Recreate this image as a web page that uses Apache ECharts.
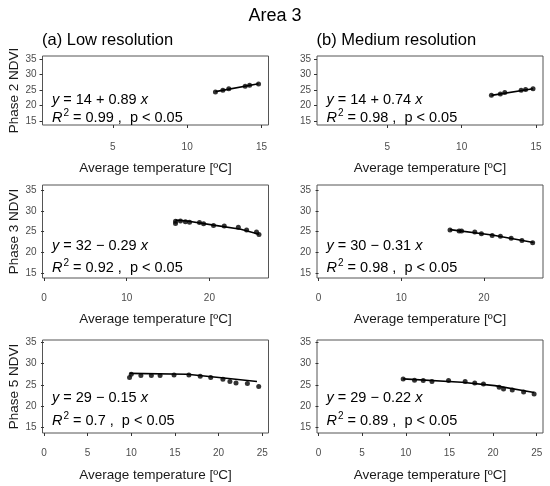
<!DOCTYPE html>
<html><head><meta charset="utf-8">
<script src="https://cdn.jsdelivr.net/npm/echarts@6/dist/echarts.min.js"></script>
<style>html,body{margin:0;padding:0;background:#fff}#c{width:550px;height:486px}</style>
</head><body><div id="c"></div>
<script>
// ---- data ----
const tempP2Low = [11.9, 12.4, 12.8, 13.9, 14.2, 14.8];
const ndviP2Low = [24.4, 24.9, 25.4, 26.2, 26.5, 26.9];
const fitP2LowX = [11.9, 14.8];
const fitP2LowY = [24.5, 27.0];

const tempP2Med = [12.0, 12.6, 12.9, 14.0, 14.3, 14.8];
const ndviP2Med = [23.3, 23.7, 24.2, 24.9, 25.2, 25.4];
const fitP2MedX = [12.0, 14.8];
const fitP2MedY = [23.3, 25.4];

const tempP3Low = [15.9, 15.9, 16.5, 17.1, 17.6, 18.8, 19.3, 20.5, 21.8, 23.5, 24.5, 25.7, 26.0];
const ndviP3Low = [27.0, 27.5, 27.6, 27.4, 27.3, 27.2, 26.9, 26.5, 26.4, 26.1, 25.4, 24.9, 24.3];
const fitP3LowX = [15.9, 17.3, 20.5, 23.8, 26.0];
const fitP3LowY = [27.8, 27.6, 26.6, 25.6, 24.4];

const tempP3Med = [15.9, 17.0, 17.3, 18.9, 19.7, 21.0, 22.0, 23.3, 24.6, 25.9];
const ndviP3Med = [25.4, 25.2, 25.2, 24.9, 24.5, 24.1, 23.9, 23.4, 22.9, 22.3];
const fitP3MedX = [15.9, 21.0, 26.0];
const fitP3MedY = [25.5, 24.2, 22.4];

const tempP5Low = [9.8, 10.0, 11.1, 12.3, 13.3, 14.9, 16.6, 17.9, 19.1, 20.5, 21.3, 22.0, 23.3, 24.6];
const ndviP5Low = [26.7, 27.5, 27.2, 27.2, 27.2, 27.3, 27.3, 27.0, 26.7, 26.3, 25.8, 25.4, 25.3, 24.6];
const fitP5LowX = [9.8, 16.4, 20.6, 24.4];
const fitP5LowY = [27.7, 27.5, 26.6, 25.8];

const tempP5Med = [9.7, 11.0, 12.0, 13.0, 14.9, 16.8, 17.9, 18.9, 20.7, 21.2, 22.2, 23.5, 24.7];
const ndviP5Med = [26.4, 26.1, 26.0, 25.8, 26.0, 25.8, 25.4, 25.2, 24.4, 24.0, 23.8, 23.3, 22.8];
const fitP5MedX = [9.7, 16.4, 20.2, 24.7];
const fitP5MedY = [26.4, 25.6, 24.8, 23.2];

const yTicks = [15, 20, 25, 30, 35];
const xTicksTop = [5, 10, 15];
const xTicksMid = [0, 10, 20];
const xTicksBot = [0, 5, 10, 15, 20, 25];

const chartTitle = 'Area 3';
const colTitles = ['(a) Low resolution', '(b) Medium resolution'];
const rowNames = ['Phase 2 NDVI', 'Phase 3 NDVI', 'Phase 5 NDVI'];
const xName = 'Average temperature [ºC]';
const eqs = [
  ['14 + 0.89', '0.99'], ['14 + 0.74', '0.98'],
  ['32 \u2212 0.29', '0.92'], ['30 \u2212 0.31', '0.98'],
  ['29 \u2212 0.15', '0.7'], ['29 \u2212 0.22', '0.89']
];

// ---- layout ----
const FONT = '"Liberation Sans", Arial, sans-serif';
const colLeft = [42.5, 317];
const plotW = 226;
const rows = [
  {top: 56, h: 69, xmin: 0.27, xmax: 15.47, ymin: 13.8, ymax: 35.9, ticks: xTicksTop, margin: 17, gap: 36, eqY: [100, 118]},
  {top: 185, h: 93, xmin: -0.19, xmax: 27.15, ymin: 13.8, ymax: 36.3, ticks: xTicksMid, margin: 15, gap: 34, eqY: [246, 268]},
  {top: 340, h: 93, xmin: -0.17, xmax: 25.72, ymin: 13.6, ymax: 35.6, ticks: xTicksBot, margin: 15, gap: 35, eqY: [398, 421]}
];
const pts = [
  [tempP2Low, ndviP2Low, fitP2LowX, fitP2LowY],
  [tempP2Med, ndviP2Med, fitP2MedX, fitP2MedY],
  [tempP3Low, ndviP3Low, fitP3LowX, fitP3LowY],
  [tempP3Med, ndviP3Med, fitP3MedX, fitP3MedY],
  [tempP5Low, ndviP5Low, fitP5LowX, fitP5LowY],
  [tempP5Med, ndviP5Med, fitP5MedX, fitP5MedY]
];

const grid = [], xAxis = [], yAxis = [], series = [], graphic = [];
graphic.push({type: 'text', x: 275, y: 16, style: {text: chartTitle, font: '18px ' + FONT, fill: '#000', align: 'center', verticalAlign: 'middle'}});
colTitles.forEach((t, c) => graphic.push({type: 'text', x: colLeft[c] - 0.5, y: 40, style: {text: t, font: '16.5px ' + FONT, fill: '#000', align: 'left', verticalAlign: 'middle'}}));

rows.forEach((r, ri) => {
  [0, 1].forEach(c => {
    const k = ri * 2 + c;
    grid.push({left: colLeft[c], top: r.top, width: plotW, height: r.h, show: true, borderColor: '#555', borderWidth: 1, backgroundColor: '#fff'});
    xAxis.push({
      type: 'value', gridIndex: k, min: r.xmin, max: r.xmax,
      name: xName, nameLocation: 'middle', nameGap: r.gap,
      nameTextStyle: {fontSize: 13.5, color: '#1a1a1a', fontFamily: FONT},
      axisLine: {show: false}, splitLine: {show: false},
      axisTick: {show: true, length: 3, lineStyle: {color: '#333'}, customValues: r.ticks},
      axisLabel: {margin: r.margin, color: '#4d4d4d', fontSize: 10, fontFamily: FONT, customValues: r.ticks}
    });
    yAxis.push({
      type: 'value', gridIndex: k, min: r.ymin, max: r.ymax,
      name: c === 0 ? rowNames[ri] : '', nameLocation: 'middle', nameGap: 21,
      nameTextStyle: {fontSize: 13.5, color: '#1a1a1a', fontFamily: FONT},
      axisLine: {show: false}, splitLine: {show: false},
      axisTick: {show: true, length: 3, lineStyle: {color: '#333'}, customValues: yTicks},
      axisLabel: {margin: 6, color: '#4d4d4d', fontSize: 10, fontFamily: FONT, customValues: yTicks}
    });
    const [tx, ty, fx, fy] = pts[k];
    series.push({
      type: 'line', xAxisIndex: k, yAxisIndex: k, data: fx.map((v, i) => [v, fy[i]]),
      showSymbol: false, symbol: 'none', lineStyle: {color: '#000', width: 1.6}, silent: true, z: 3
    });
    series.push({
      type: 'scatter', xAxisIndex: k, yAxisIndex: k, data: tx.map((v, i) => [v, ty[i]]),
      symbol: 'circle', symbolSize: 5, itemStyle: {color: '#000'}, silent: true, z: 4
    });
    const e = eqs[k];
    const rich = {
      i: {fontStyle: 'italic', fontSize: 14.5, fontFamily: FONT, color: '#1a1a1a'},
      n: {fontSize: 14.5, fontFamily: FONT, color: '#1a1a1a'},
      s: {fontSize: 10, fontFamily: FONT, color: '#1a1a1a', verticalAlign: 'top', padding: [0, 0, 9, 1]}
    };
    graphic.push({type: 'text', x: colLeft[c] + 9.5, y: r.eqY[0], z: 10,
      style: {text: '{i|y}{n| = ' + e[0] + ' }{i|x}', rich, verticalAlign: 'middle', align: 'left'}});
    graphic.push({type: 'text', x: colLeft[c] + 9.5, y: r.eqY[1], z: 10,
      style: {text: '{i|R}{s|2}{n| = ' + e[1] + ' ,  p < 0.05}', rich, verticalAlign: 'middle', align: 'left'}});
  });
});

const chart = echarts.init(document.getElementById('c'), null, {renderer: 'canvas'});
chart.setOption({animation: false, backgroundColor: '#fff', textStyle: {fontFamily: FONT}, grid, xAxis, yAxis, series, graphic});
</script></body></html>
